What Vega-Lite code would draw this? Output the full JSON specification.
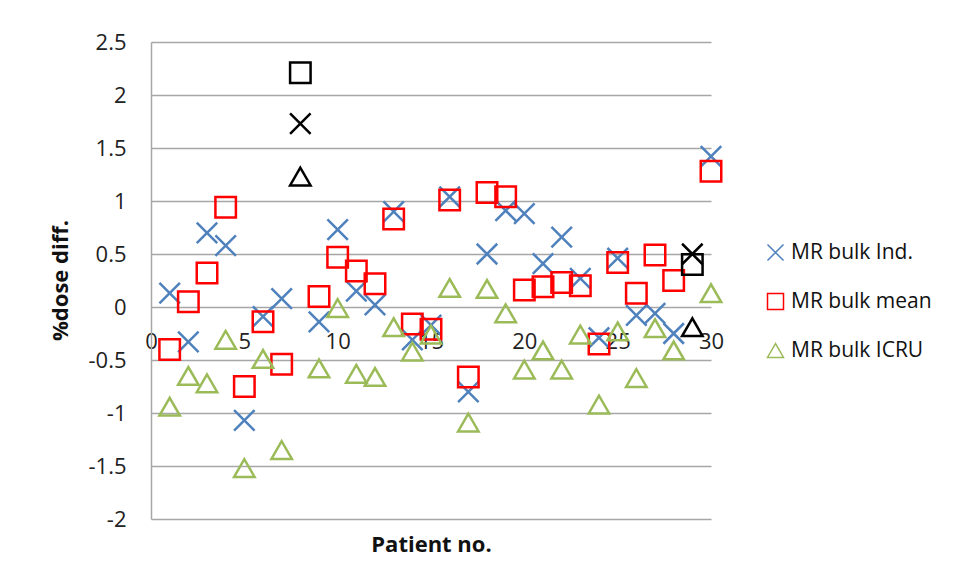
{
  "$schema": "https://vega.github.io/schema/vega-lite/v6.json",
  "width": 560,
  "height": 477,
  "autosize": {"type": "none"},
  "padding": {"left": 151, "top": 42, "right": 254, "bottom": 64},
  "background": "white",
  "config": {
    "view": {"stroke": null},
    "font": "Open Sans"
  },
  "data": {
    "values": [
      {"patient": 1, "series": "MR bulk Ind.", "value": 0.13},
      {"patient": 2, "series": "MR bulk Ind.", "value": -0.33},
      {"patient": 3, "series": "MR bulk Ind.", "value": 0.70},
      {"patient": 4, "series": "MR bulk Ind.", "value": 0.58},
      {"patient": 5, "series": "MR bulk Ind.", "value": -1.07},
      {"patient": 6, "series": "MR bulk Ind.", "value": -0.09},
      {"patient": 7, "series": "MR bulk Ind.", "value": 0.08},
      {"patient": 8, "series": "MR bulk Ind.", "value": 1.73},
      {"patient": 9, "series": "MR bulk Ind.", "value": -0.14},
      {"patient": 10, "series": "MR bulk Ind.", "value": 0.73},
      {"patient": 11, "series": "MR bulk Ind.", "value": 0.15},
      {"patient": 12, "series": "MR bulk Ind.", "value": 0.02},
      {"patient": 13, "series": "MR bulk Ind.", "value": 0.90},
      {"patient": 14, "series": "MR bulk Ind.", "value": -0.31},
      {"patient": 15, "series": "MR bulk Ind.", "value": -0.17},
      {"patient": 16, "series": "MR bulk Ind.", "value": 1.04},
      {"patient": 17, "series": "MR bulk Ind.", "value": -0.80},
      {"patient": 18, "series": "MR bulk Ind.", "value": 0.50},
      {"patient": 19, "series": "MR bulk Ind.", "value": 0.91},
      {"patient": 20, "series": "MR bulk Ind.", "value": 0.88},
      {"patient": 21, "series": "MR bulk Ind.", "value": 0.41},
      {"patient": 22, "series": "MR bulk Ind.", "value": 0.66},
      {"patient": 23, "series": "MR bulk Ind.", "value": 0.27},
      {"patient": 24, "series": "MR bulk Ind.", "value": -0.29},
      {"patient": 25, "series": "MR bulk Ind.", "value": 0.46},
      {"patient": 26, "series": "MR bulk Ind.", "value": -0.08},
      {"patient": 27, "series": "MR bulk Ind.", "value": -0.06},
      {"patient": 28, "series": "MR bulk Ind.", "value": -0.25},
      {"patient": 29, "series": "MR bulk Ind.", "value": 0.50},
      {"patient": 30, "series": "MR bulk Ind.", "value": 1.42},
      {"patient": 1, "series": "MR bulk mean", "value": -0.40},
      {"patient": 2, "series": "MR bulk mean", "value": 0.05},
      {"patient": 3, "series": "MR bulk mean", "value": 0.32},
      {"patient": 4, "series": "MR bulk mean", "value": 0.94},
      {"patient": 5, "series": "MR bulk mean", "value": -0.75},
      {"patient": 6, "series": "MR bulk mean", "value": -0.14},
      {"patient": 7, "series": "MR bulk mean", "value": -0.54},
      {"patient": 8, "series": "MR bulk mean", "value": 2.21},
      {"patient": 9, "series": "MR bulk mean", "value": 0.10},
      {"patient": 10, "series": "MR bulk mean", "value": 0.47},
      {"patient": 11, "series": "MR bulk mean", "value": 0.34},
      {"patient": 12, "series": "MR bulk mean", "value": 0.22},
      {"patient": 13, "series": "MR bulk mean", "value": 0.83},
      {"patient": 14, "series": "MR bulk mean", "value": -0.16},
      {"patient": 15, "series": "MR bulk mean", "value": -0.21},
      {"patient": 16, "series": "MR bulk mean", "value": 1.01},
      {"patient": 17, "series": "MR bulk mean", "value": -0.66},
      {"patient": 18, "series": "MR bulk mean", "value": 1.08},
      {"patient": 19, "series": "MR bulk mean", "value": 1.04},
      {"patient": 20, "series": "MR bulk mean", "value": 0.16},
      {"patient": 21, "series": "MR bulk mean", "value": 0.19},
      {"patient": 22, "series": "MR bulk mean", "value": 0.23},
      {"patient": 23, "series": "MR bulk mean", "value": 0.20},
      {"patient": 24, "series": "MR bulk mean", "value": -0.35},
      {"patient": 25, "series": "MR bulk mean", "value": 0.42},
      {"patient": 26, "series": "MR bulk mean", "value": 0.13},
      {"patient": 27, "series": "MR bulk mean", "value": 0.49},
      {"patient": 28, "series": "MR bulk mean", "value": 0.25},
      {"patient": 29, "series": "MR bulk mean", "value": 0.40},
      {"patient": 30, "series": "MR bulk mean", "value": 1.28},
      {"patient": 1, "series": "MR bulk ICRU", "value": -0.94},
      {"patient": 2, "series": "MR bulk ICRU", "value": -0.65},
      {"patient": 3, "series": "MR bulk ICRU", "value": -0.72},
      {"patient": 4, "series": "MR bulk ICRU", "value": -0.31},
      {"patient": 5, "series": "MR bulk ICRU", "value": -1.52},
      {"patient": 6, "series": "MR bulk ICRU", "value": -0.49},
      {"patient": 7, "series": "MR bulk ICRU", "value": -1.35},
      {"patient": 8, "series": "MR bulk ICRU", "value": 1.23},
      {"patient": 9, "series": "MR bulk ICRU", "value": -0.58},
      {"patient": 10, "series": "MR bulk ICRU", "value": -0.01},
      {"patient": 11, "series": "MR bulk ICRU", "value": -0.63},
      {"patient": 12, "series": "MR bulk ICRU", "value": -0.66},
      {"patient": 13, "series": "MR bulk ICRU", "value": -0.19},
      {"patient": 14, "series": "MR bulk ICRU", "value": -0.42},
      {"patient": 15, "series": "MR bulk ICRU", "value": -0.26},
      {"patient": 16, "series": "MR bulk ICRU", "value": 0.18},
      {"patient": 17, "series": "MR bulk ICRU", "value": -1.09},
      {"patient": 18, "series": "MR bulk ICRU", "value": 0.17},
      {"patient": 19, "series": "MR bulk ICRU", "value": -0.06},
      {"patient": 20, "series": "MR bulk ICRU", "value": -0.59},
      {"patient": 21, "series": "MR bulk ICRU", "value": -0.41},
      {"patient": 22, "series": "MR bulk ICRU", "value": -0.59},
      {"patient": 23, "series": "MR bulk ICRU", "value": -0.26},
      {"patient": 24, "series": "MR bulk ICRU", "value": -0.92},
      {"patient": 25, "series": "MR bulk ICRU", "value": -0.23},
      {"patient": 26, "series": "MR bulk ICRU", "value": -0.67},
      {"patient": 27, "series": "MR bulk ICRU", "value": -0.20},
      {"patient": 28, "series": "MR bulk ICRU", "value": -0.41},
      {"patient": 29, "series": "MR bulk ICRU", "value": -0.19},
      {"patient": 30, "series": "MR bulk ICRU", "value": 0.13}
    ]
  },
  "mark": {"type": "point", "filled": false, "strokeWidth": 2.5, "size": 420, "opacity": 1},
  "encoding": {
    "x": {
      "field": "patient",
      "type": "quantitative",
      "scale": {"domain": [0, 30], "nice": false, "zero": false},
      "axis": {
        "values": [0, 5, 10, 15, 20, 25, 30],
        "grid": false,
        "ticks": false,
        "domain": false,
        "offset": -212,
        "labelPadding": 24,
        "labelFontSize": 22,
        "labelColor": "#222222",
        "labelFont": "Open Sans",
        "labelFlush": false,
        "title": "Patient no.",
        "titleFontSize": 22,
        "titleFontWeight": "bold",
        "titleColor": "#111111",
        "titleFont": "Open Sans",
        "titleY": 227,
        "titleX": 280
      }
    },
    "y": {
      "field": "value",
      "type": "quantitative",
      "scale": {"domain": [-2, 2.5], "nice": false, "zero": false},
      "axis": {
        "values": [-2, -1.5, -1, -0.5, 0, 0.5, 1, 1.5, 2, 2.5],
        "labelExpr": "toString(datum.value)",
        "grid": true,
        "gridColor": "#A6A6A6",
        "gridWidth": 1.5,
        "ticks": false,
        "domain": true,
        "domainColor": "#A6A6A6",
        "domainWidth": 1.5,
        "labelPadding": 25,
        "labelFontSize": 22,
        "labelColor": "#222222",
        "labelFont": "Open Sans",
        "title": "%dose diff.",
        "titleFontSize": 22,
        "titleFontWeight": "bold",
        "titleColor": "#111111",
        "titleFont": "Open Sans",
        "titleX": -79,
        "titleY": 238
      }
    },
    "shape": {
      "field": "series",
      "type": "nominal",
      "scale": {
        "domain": ["MR bulk Ind.", "MR bulk mean", "MR bulk ICRU"],
        "range": ["M-1,-1L1,1M-1,1L1,-1", "square", "triangle-up"]
      },
      "legend": null
    },
    "color": {
      "field": "series",
      "type": "nominal",
      "condition": {"test": "datum.patient == 8 || datum.patient == 29", "value": "#000000"},
      "scale": {
        "domain": ["MR bulk Ind.", "MR bulk mean", "MR bulk ICRU"],
        "range": ["#4F81BD", "#FF0000", "#9BBB59"]
      },
      "legend": {
        "title": null,
        "orient": "none",
        "legendX": 614,
        "legendY": 200,
        "padding": 0,
        "symbolType": "square",
        "symbolSize": 256,
        "symbolStrokeWidth": 1.5,
        "symbolFillColor": "transparent",
        "labelFontSize": 21,
        "labelFont": "Open Sans",
        "labelColor": "#111111",
        "labelOffset": 5,
        "rowPadding": 26
      }
    }
  }
}
